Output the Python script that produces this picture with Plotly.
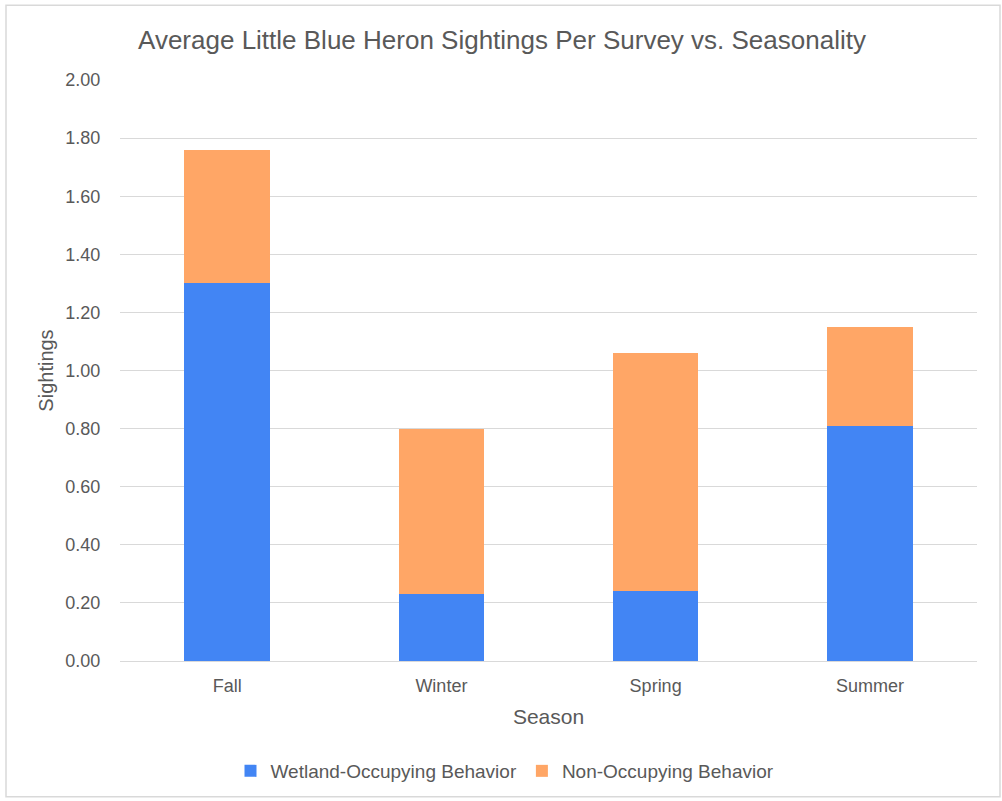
import plotly.graph_objects as go

seasons = ["Fall", "Winter", "Spring", "Summer"]
wetland = [1.30, 0.23, 0.24, 0.81]
non_occupying = [0.46, 0.57, 0.82, 0.34]
y_ticks = [0.0, 0.2, 0.4, 0.6, 0.8, 1.0, 1.2, 1.4, 1.6, 1.8, 2.0]

W, H = 1002, 801
L, R, T, B = 120, 25, 80, 139
pw, ph = W - L - R, H - T - B

def px_x(x):
    return (x - L) / pw

def px_y(y):
    return (H - B - y) / ph

fig = go.Figure()
fig.add_trace(go.Bar(x=seasons, y=wetland, name="Wetland-Occupying Behavior",
                     marker=dict(color="#4285F4", line=dict(width=0))))
fig.add_trace(go.Bar(x=seasons, y=non_occupying, name="Non-Occupying Behavior",
                     marker=dict(color="#FFA666", line=dict(width=0))))

font_family = "Liberation Sans, Arial, sans-serif"
fig.update_layout(
    width=W, height=H,
    barmode="stack", bargap=0.6,
    plot_bgcolor="white", paper_bgcolor="white",
    margin=dict(l=L, r=R, t=T, b=B, pad=0),
    font=dict(family=font_family, color="#595959", size=18),
    title=dict(text="Average Little Blue Heron Sightings Per Survey vs. Seasonality",
               xref="container", x=502 / W, xanchor="center",
               yref="container", y=1 - 40 / H, yanchor="middle",
               font=dict(size=26, color="#595959")),
    xaxis=dict(title=dict(text="Season", font=dict(size=21), standoff=14),
               showgrid=False, showline=True, linecolor="#d9d9d9", linewidth=1,
               ticks="outside", ticklen=8, tickcolor="rgba(0,0,0,0)",
               tickfont=dict(size=18)),
    yaxis=dict(title=dict(text="Sightings", font=dict(size=20), standoff=6),
               range=[0, 2.0], tickvals=y_ticks, tickformat=".2f",
               showgrid=True, gridcolor="#d9d9d9", gridwidth=1,
               zeroline=True, zerolinecolor="#d9d9d9", zerolinewidth=1,
               ticks="outside", ticklen=15, tickcolor="rgba(0,0,0,0)",
               tickfont=dict(size=18)),
    legend=dict(orientation="h", x=px_x(505), xanchor="center",
                y=px_y(771), yanchor="middle", font=dict(size=19),
                traceorder="normal", itemwidth=30),
    shapes=[dict(type="rect", xref="paper", yref="paper",
                 x0=px_x(6), x1=px_x(1000), y0=px_y(798), y1=px_y(5),
                 line=dict(color="#d9d9d9", width=1.5), fillcolor="rgba(0,0,0,0)",
                 layer="below")],
)

fig.write_html("out.html")
